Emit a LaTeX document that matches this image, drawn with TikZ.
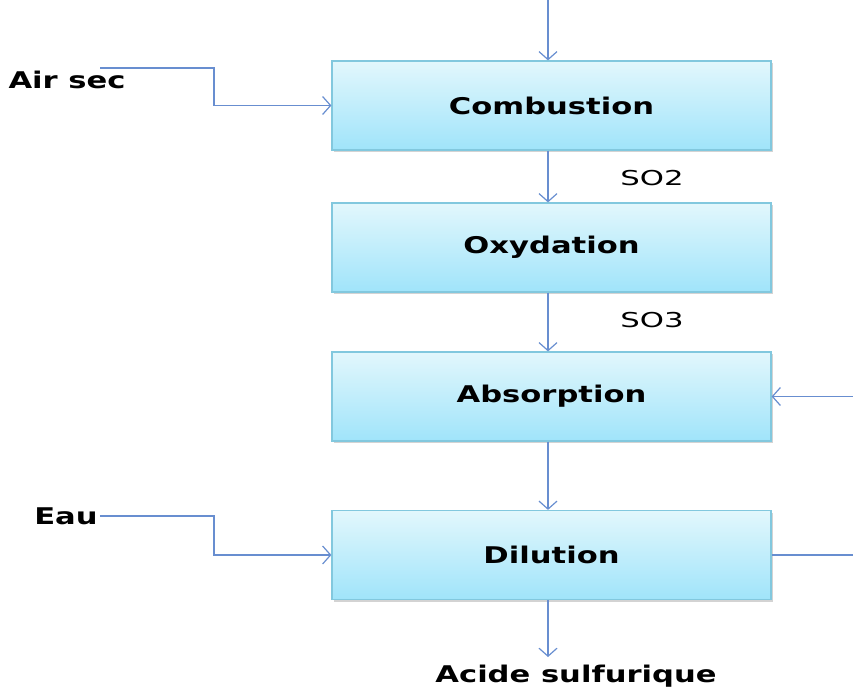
\documentclass[tikz,border=0pt]{standalone}
\usepackage{fontspec}
\setmainfont{DejaVu Sans}
\usetikzlibrary{arrows.meta,shadows}
\definecolor{lnc}{RGB}{104,142,208}
\definecolor{boxtop}{RGB}{226,247,252}
\definecolor{boxbot}{RGB}{160,228,250}
\definecolor{boxline}{RGB}{130,200,222}
\tikzset{
  procbox/.style={draw=boxline, line width=1.2pt, top color=boxtop, bottom color=boxbot,
    minimum width=439pt, minimum height=89pt, inner sep=0pt,
    font=\fontsize{23}{26}\selectfont\bfseries\addfontfeatures{FakeStretch=1.33},
    drop shadow={opacity=0.35, shadow xshift=2pt, shadow yshift=-2pt}},
  flow/.style={draw=lnc, line width=1.5pt},
  arr/.style={flow, -{Straight Barb[length=8pt,width=18pt,line width=1.2pt]}},
  lbl/.style={inner sep=0pt, font=\fontsize{23}{26}\selectfont\bfseries\addfontfeatures{FakeStretch=1.33}},
  gas/.style={inner sep=0pt, font=\fontsize{20.5}{22}\selectfont\addfontfeatures{FakeStretch=1.5}}
}
\begin{document}
\begin{tikzpicture}[x=1pt,y=-1pt]
\useasboundingbox (0,0) rectangle (853,688);
\node[procbox] (comb) at (551.5,105.5) {Combustion};
\node[procbox] (oxy) at (551.5,247.5) {Oxydation};
\node[procbox] (abs) at (551.5,396.5) {Absorption};
\node[procbox] (dil) at (551.5,555) {Dilution};
\node[lbl] (air) at (67,80) {Air sec};
\node[lbl] (eau) at (66,516) {Eau};
\node[lbl] (acide) at (576,676) {Acide sulfurique};
\node[gas] (so2) at (652,178) {SO2};
\node[gas] (so3) at (652,320) {SO3};
\coordinate (top) at (548,0);
\coordinate (airstart) at (100,68);
\coordinate (abin) at (853,396.5);
\coordinate (dilout) at (853,555);
\coordinate (acidetip) at (548,657);
\draw[arr] (top) -- ([xshift=-3.5pt]comb.north);
\draw[arr] ([xshift=-3.5pt]comb.south) -- ([xshift=-3.5pt]oxy.north);
\draw[arr] ([xshift=-3.5pt]oxy.south) -- ([xshift=-3.5pt]abs.north);
\draw[arr] ([xshift=-3.5pt]abs.south) -- ([xshift=-3.5pt]dil.north);
\draw[arr] ([xshift=-3.5pt]dil.south) -- (acidetip);
\draw[arr] (airstart) -- (214,68) -- (214,105.5) -- (comb.west);
\draw[arr] ([xshift=2pt]eau.east) -- (214,516) -- (214,555) -- (dil.west);
\draw[arr] (abin) -- (abs.east);
\draw[flow] (dil.east) -- (dilout);
\end{tikzpicture}
\end{document}
